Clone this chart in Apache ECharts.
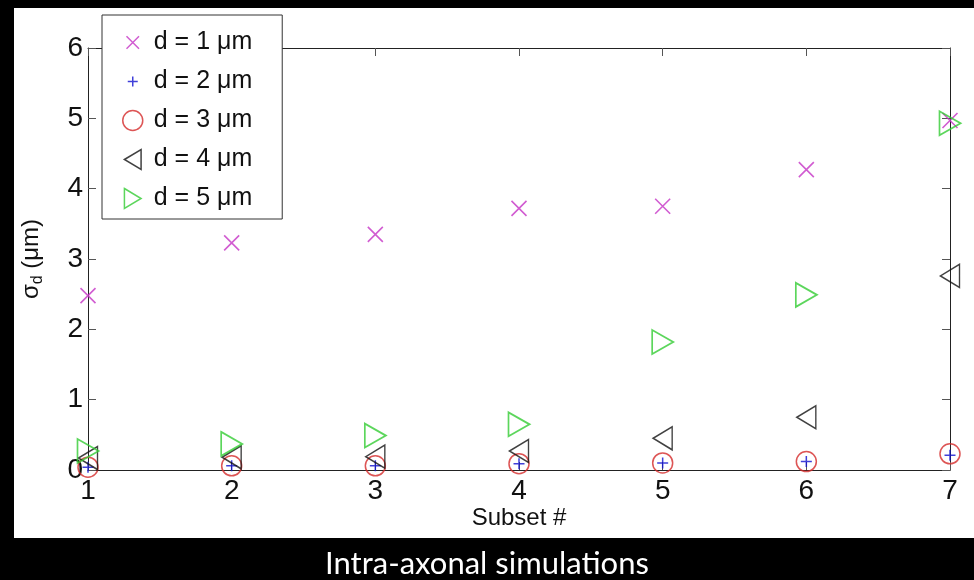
<!DOCTYPE html>
<html>
<head>
<meta charset="utf-8">
<script src="https://cdn.jsdelivr.net/npm/echarts@6/dist/echarts.min.js"></script>
<style>
  html, body { margin: 0; padding: 0; background: #000; }
  #chart { width: 974px; height: 580px; }
</style>
</head>
<body>
<div id="chart"></div>
<script>
//--------------------------------
// Data
//--------------------------------
const subsets = [1, 2, 3, 4, 5, 6, 7];
const names = ['d = 1 μm', 'd = 2 μm', 'd = 3 μm', 'd = 4 μm', 'd = 5 μm'];
const sigmaD1 = [2.48, 3.23, 3.35, 3.72, 3.75, 4.27, 4.97];
const sigmaD2 = [0.04, 0.06, 0.06, 0.09, 0.10, 0.12, 0.21];
const sigmaD3 = [0.04, 0.06, 0.06, 0.09, 0.10, 0.12, 0.23];
const sigmaD4 = [0.17, 0.18, 0.19, 0.27, 0.45, 0.75, 2.76];
const sigmaD5 = [0.27, 0.37, 0.49, 0.65, 1.82, 2.49, 4.93];
const yTicks = [0, 1, 2, 3, 4, 5, 6];

//--------------------------------
// Markers (matlab style)
//--------------------------------
const MK_X = 'path://M0,0L10,10M10,0L0,10';
const MK_PLUS = 'path://M5,0L5,10M0,5L10,5';
const MK_LEFT = 'path://M0,6L10,0L10,12Z';
const MK_RIGHT = 'path://M0,0L10,6L0,12Z';
// legend icons padded with empty moves so they look smaller
const LG_X = 'path://M-3,-3M13,13M0,0L10,10M10,0L0,10';
const LG_PLUS = 'path://M-5,-5M15,15M5,0L5,10M0,5L10,5';

const pair = (ys) => subsets.map((x, i) => [x, ys[i]]);

const mkSeries = (name, ys, symbol, size, color, width) => ({
    name: name,
    type: 'scatter',
    data: pair(ys),
    symbol: symbol,
    symbolSize: size,
    clip: false,
    itemStyle: {
        color: 'rgba(0,0,0,0)',
        borderColor: color,
        borderWidth: width
    },
    emphasis: { disabled: true }
});

const FONT = 'Liberation Sans';
const TICK = { show: true, inside: true, length: 8, lineStyle: { color: '#555' } };
const LINE = { show: true, onZero: false, lineStyle: { color: '#222', width: 1 } };

const myChart = echarts.init(document.getElementById('chart'));

let options = {
    backgroundColor: '#000',
    animation: false,
    graphic: [
        {
            type: 'rect',
            left: 14,
            top: 8,
            z: -10,
            silent: true,
            shape: { width: 960, height: 530 },
            style: { fill: '#fff' }
        }
    ],
    title: {
        text: 'Intra-axonal simulations',
        left: 'center',
        top: 543,
        textStyle: { color: '#fff', fontSize: 31, fontWeight: 'normal', fontFamily: 'Lato' }
    },
    legend: {
        orient: 'vertical',
        left: 102,
        top: 15,
        padding: [15, 30, 8, 20],
        itemGap: 14,
        itemWidth: 20,
        itemHeight: 20,
        backgroundColor: '#fff',
        borderColor: '#333',
        borderWidth: 1,
        z: 10,
        itemStyle: { borderWidth: 1.5 },
        textStyle: { fontSize: 25, fontFamily: FONT, color: '#111', lineHeight: 20, padding: [0, 0, 0, 6] },
        selectedMode: false,
        data: [
            { name: names[0], icon: LG_X },
            { name: names[1], icon: LG_PLUS },
            { name: names[2] },
            { name: names[3] },
            { name: names[4] }
        ]
    },
    grid: {
        left: 88,
        right: 24,
        top: 48,
        bottom: 110,
        containLabel: false
    },
    xAxis: [
        {
            type: 'value',
            position: 'bottom',
            min: 1,
            max: 7,
            interval: 1,
            axisLine: LINE,
            axisTick: TICK,
            splitLine: { show: false },
            axisLabel: { fontSize: 28, fontFamily: FONT, color: '#111', margin: 7 },
            name: 'Subset #',
            nameLocation: 'middle',
            nameGap: 36,
            nameMoveOverlap: false,
            nameTextStyle: { fontSize: 24, fontFamily: FONT, color: '#111' }
        },
        {
            type: 'value',
            position: 'top',
            min: 1,
            max: 7,
            interval: 1,
            axisLine: LINE,
            axisTick: TICK,
            splitLine: { show: false },
            axisLabel: { show: false }
        }
    ],
    yAxis: [
        {
            type: 'value',
            position: 'left',
            min: yTicks[0],
            max: yTicks[yTicks.length - 1],
            interval: 1,
            axisLine: LINE,
            axisTick: TICK,
            splitLine: { show: false },
            axisLabel: { fontSize: 28, fontFamily: FONT, color: '#111', margin: 5 },
            name: '{a|σ}{b|d}{a| (μm)}',
            nameLocation: 'middle',
            nameRotate: 90,
            nameGap: 42,
            nameTextStyle: {
                rich: {
                    a: { fontSize: 24, fontFamily: FONT, color: '#111', lineHeight: 30, verticalAlign: 'middle' },
                    b: { fontSize: 16, fontFamily: FONT, color: '#111', lineHeight: 30, verticalAlign: 'bottom', padding: [8, 0, 0, 0] }
                }
            }
        },
        {
            type: 'value',
            position: 'right',
            min: yTicks[0],
            max: yTicks[yTicks.length - 1],
            interval: 1,
            axisLine: LINE,
            axisTick: TICK,
            splitLine: { show: false },
            axisLabel: { show: false }
        }
    ],
    series: [
        mkSeries(names[0], sigmaD1, MK_X, 15, '#c633c6', 1.6),
        mkSeries(names[1], sigmaD2, MK_PLUS, 11, '#1010d0', 1.5),
        mkSeries(names[2], sigmaD3, 'circle', 20, '#d42a2a', 1.5),
        mkSeries(names[3], sigmaD4, MK_LEFT, [19, 23], '#111111', 1.5),
        mkSeries(names[4], sigmaD5, MK_RIGHT, [21, 24], '#33cc33', 1.8)
    ]
};

myChart.setOption(options);
</script>
</body>
</html>
